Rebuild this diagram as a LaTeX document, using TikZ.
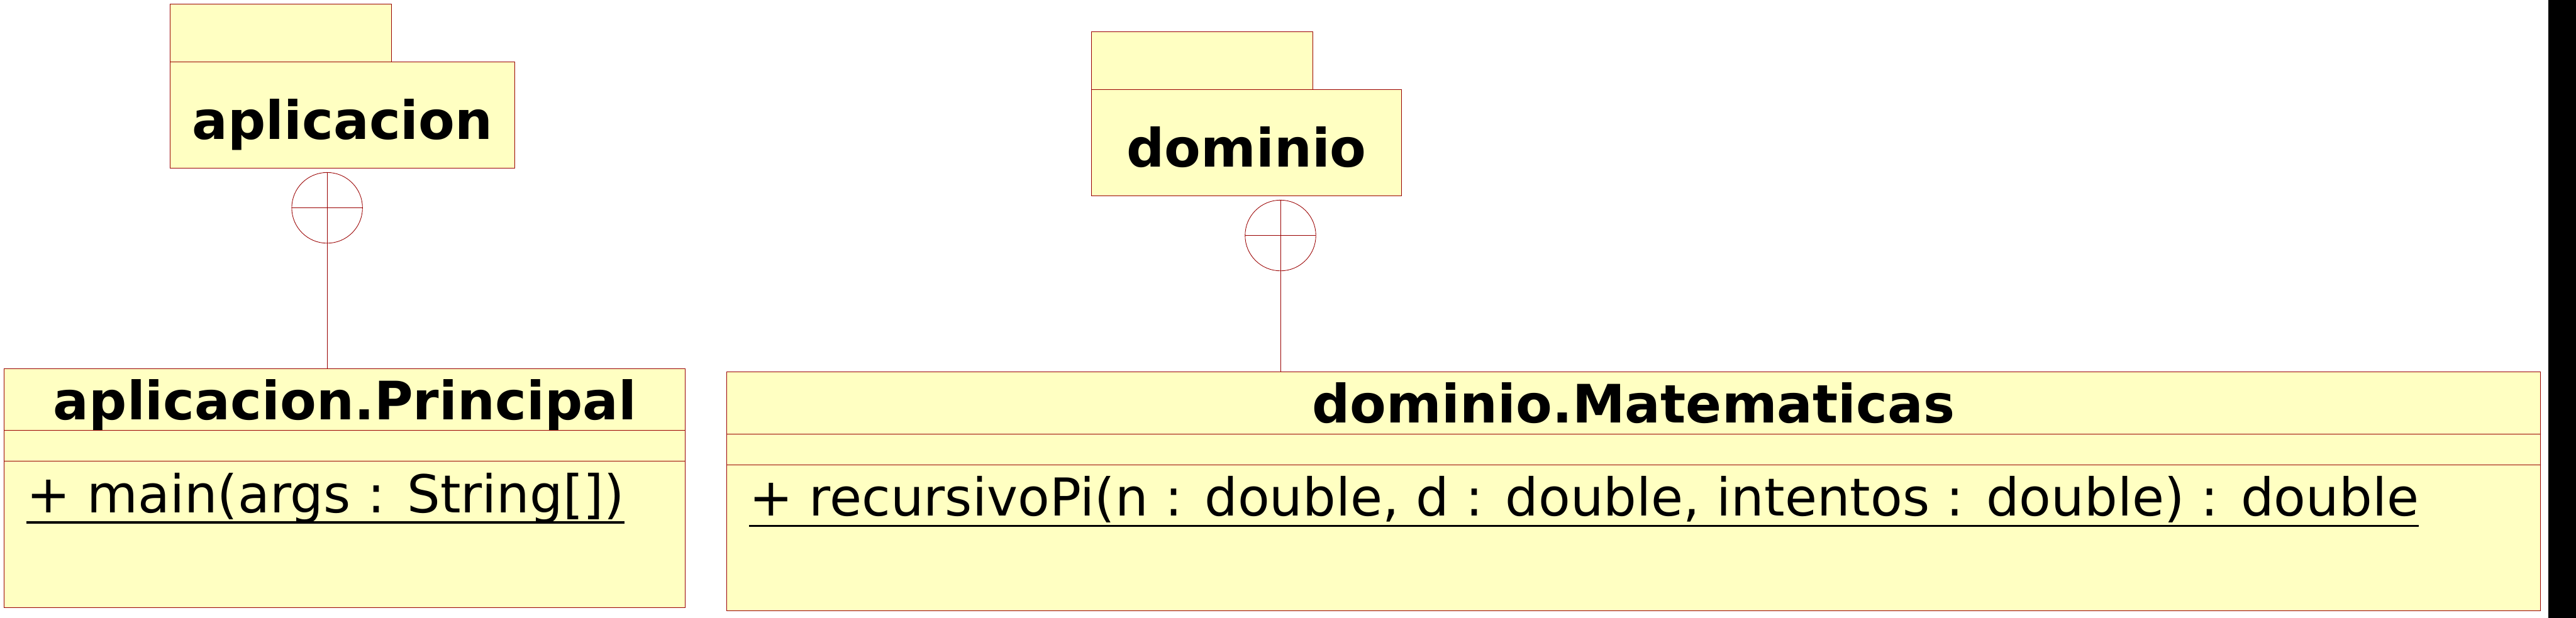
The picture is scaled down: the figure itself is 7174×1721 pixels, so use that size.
\documentclass[tikz,border=0pt]{standalone}
\usepackage{fontspec}
\setmainfont{DejaVu Sans}
\pgfdeclarelayer{bg}
\pgfsetlayers{bg,main}
\definecolor{umlfill}{RGB}{255,255,194}
\definecolor{umlline}{RGB}{153,0,0}
\tikzset{
    every node/.style={inner sep=0pt, outer sep=0pt},
    pkgbox/.style={rectangle, draw=umlline, fill=umlfill, line width=.15pt, anchor=north west},
    classbox/.style={rectangle, draw=umlline, fill=umlfill, line width=.15pt, anchor=north west},
    nest/.style={circle, draw=umlline, line width=.15pt, minimum size=19.7pt},
    bigname/.style={anchor=base, font=\fontsize{14.75}{17}\selectfont\bfseries},
    oper/.style={anchor=base west, font=\fontsize{14.55}{17}\selectfont},
    uline/.style={line width=.66pt, black},
    sep/.style={draw=umlline, line width=.15pt}
}

\begin{document}
\begin{tikzpicture}[x=0.1pt, y=-0.1pt]
        \useasboundingbox (0,0) rectangle (7174,1721);
        \node (tapl) [pkgbox, minimum width=61.7pt, minimum height=16pt] at (473,12) {};
        \node (papl) [pkgbox, minimum width=96.1pt, minimum height=29.6pt] at (473,172) {};
        \node (napl) [bigname] at (953.5,388) {aplicacion};
        \node (tdom) [pkgbox, minimum width=61.6pt, minimum height=16pt] at (3040,89) {};
        \node (pdom) [pkgbox, minimum width=86.3pt, minimum height=29.6pt] at (3040,249) {};
        \node (ndom) [bigname] at (3471.5,465) {dominio};
        \node (prin) [classbox, minimum width=189.7pt, minimum height=66.5pt] at (12,1027) {};
        \node (tprin) [bigname] at (960.5,1169) {aplicacion.Principal};
        \node (mprin) [oper] at (74,1427.5) {+ main(args : String[])};
        \node (mate) [classbox, minimum width=505.1pt, minimum height=66.6pt] at (2024,1036) {};
        \node (tmate) [bigname] at (4549.5,1178) {dominio.Matematicas};
        \node (mmate) [oper] at (2086,1437) {+ recursivoPi(n : double, d : double, intentos : double) : double};
        \node (capl) [nest] at (911,579) {};
        \node (cdom) [nest] at (3566,656) {};
        \draw [sep] (prin.west |- 0,1199) -- (prin.east |- 0,1199);
        \draw [sep] (prin.west |- 0,1285) -- (prin.east |- 0,1285);
        \draw [sep] (mate.west |- 0,1210) -- (mate.east |- 0,1210);
        \draw [sep] (mate.west |- 0,1295) -- (mate.east |- 0,1295);
        \draw [uline] ([yshift=-2.8pt]mprin.base west) -- ([yshift=-2.8pt]mprin.base east);
        \draw [uline] ([yshift=-2.8pt]mmate.base west) -- ([yshift=-2.8pt]mmate.base east);
        \begin{pgfonlayer}{bg}
                \draw [sep] (capl.west) -- (capl.east);
                \draw [sep] (capl.north) -- (capl.north |- prin.north);
                \draw [sep] (cdom.west) -- (cdom.east);
                \draw [sep] (cdom.north) -- (cdom.north |- mate.north);
        \end{pgfonlayer}
        \fill [black] (7096,0) rectangle (7174,1721);
\end{tikzpicture}
\end{document}
